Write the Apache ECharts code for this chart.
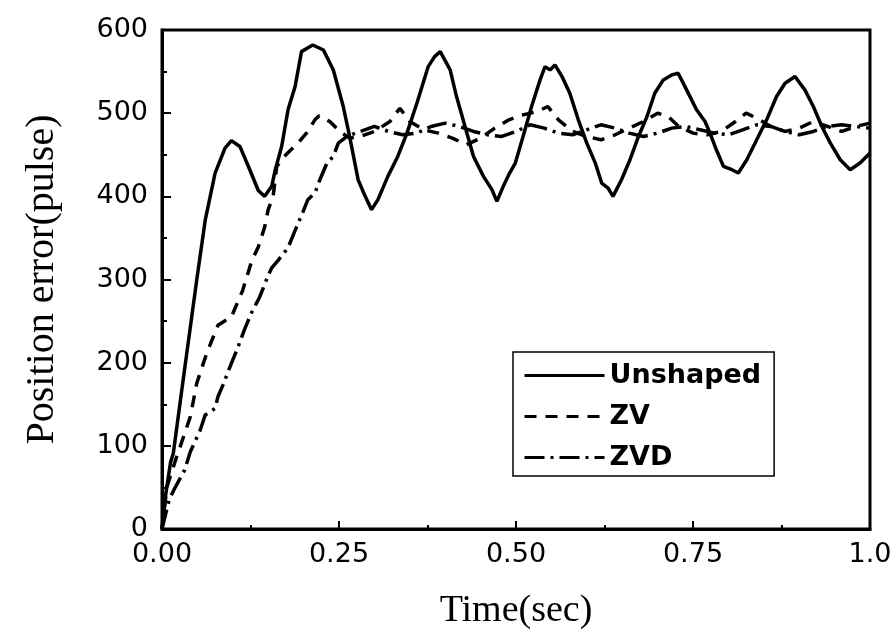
<!DOCTYPE html>
<html>
<head>
<meta charset="utf-8">
<script src="https://cdn.jsdelivr.net/npm/echarts@6/dist/echarts.min.js"></script>
<style>html,body{margin:0;padding:0;background:#fff}#c{width:895px;height:636px}</style>
</head>
<body>
<div id="c"></div>
<script>
var seriesNames = ['Unshaped', 'ZV', 'ZVD'];
var xTickLabels = ['0.00', '0.25', '0.50', '0.75', '1.0'];
var yTicks = [0, 100, 200, 300, 400, 500, 600];

var unshapedT = [0,0.005,0.012,0.016,0.03,0.049,0.061,0.075,0.089,0.098,0.11,0.124,0.136,0.145,0.155,0.16,0.169,0.178,0.188,0.197,0.205,0.213,0.228,0.242,0.256,0.265,0.277,0.287,0.296,0.305,0.319,0.333,0.346,0.36,0.376,0.385,0.393,0.407,0.416,0.428,0.44,0.454,0.466,0.473,0.482,0.491,0.499,0.51,0.522,0.534,0.541,0.548,0.555,0.565,0.576,0.588,0.6,0.612,0.621,0.63,0.637,0.649,0.661,0.673,0.685,0.696,0.708,0.72,0.729,0.741,0.755,0.767,0.774,0.783,0.793,0.805,0.814,0.826,0.84,0.854,0.868,0.88,0.894,0.908,0.92,0.932,0.944,0.958,0.972,0.986,1.0];
var unshapedV = [0,40,80,91,180,299,371,428,458,467,460,432,407,400,412,432,460,504,532,574,578,582,576,552,508,472,420,400,384,396,424,448,476,512,556,568,574,552,520,484,448,424,408,394,412,428,440,472,508,540,556,552,558,544,524,492,464,440,416,410,400,420,444,472,496,524,540,546,548,528,504,490,476,456,436,432,428,444,468,492,520,536,544,528,508,484,464,444,432,440,452];

var zvT = [0,0.007,0.02,0.04,0.049,0.063,0.079,0.098,0.114,0.127,0.136,0.145,0.15,0.157,0.162,0.175,0.192,0.204,0.216,0.222,0.237,0.251,0.265,0.28,0.3,0.322,0.336,0.35,0.37,0.39,0.41,0.43,0.45,0.47,0.49,0.51,0.53,0.545,0.56,0.58,0.6,0.62,0.64,0.66,0.68,0.70,0.715,0.73,0.75,0.77,0.79,0.81,0.825,0.84,0.86,0.88,0.90,0.92,0.94,0.96,0.98,1.0];
var zvV = [0,51,85,135,175,211,245,255,287,323,339,363,384,400,436,450,464,476,492,497,490,478,470,472,478,490,506,490,480,476,470,462,470,482,492,498,502,508,492,478,472,468,474,482,490,500,496,484,476,474,478,490,500,494,484,478,482,490,484,478,484,488];

var zvdT = [0,0.01,0.018,0.032,0.04,0.054,0.061,0.075,0.079,0.086,0.096,0.107,0.117,0.127,0.138,0.15,0.155,0.164,0.178,0.188,0.199,0.206,0.216,0.223,0.233,0.242,0.249,0.261,0.28,0.30,0.32,0.34,0.36,0.38,0.40,0.42,0.44,0.46,0.48,0.50,0.52,0.54,0.56,0.58,0.60,0.62,0.64,0.66,0.68,0.70,0.72,0.74,0.76,0.78,0.80,0.82,0.84,0.86,0.88,0.90,0.92,0.94,0.96,0.98,1.0];
var zvdV = [0,35,49,71,93,119,137,145,159,173,195,218,241,261,279,305,314,323,338,359,381,396,404,420,440,448,464,472,478,484,478,474,476,484,488,484,478,474,472,478,486,482,476,474,480,486,482,476,472,476,482,484,480,476,474,480,486,484,478,474,478,484,486,484,482];

function pairs(t, v) { return t.map(function (x, i) { return [x, v[i]]; }); }

var chart = echarts.init(document.getElementById('c'), null, { renderer: 'canvas' });
var sansFont = '"DejaVu Sans", Arial, sans-serif';
var serifFont = '"Liberation Serif", "Times New Roman", serif';

chart.setOption({
  backgroundColor: '#ffffff',
  animation: false,
  grid: {
    left: 162, right: 25, top: 30, bottom: 107,
    show: true, borderColor: '#000', borderWidth: 3, backgroundColor: 'transparent'
  },
  legend: {
    orient: 'vertical',
    left: 513, top: 352,
    padding: [10, 13, 5, 10],
    itemGap: 14,
    itemWidth: 80,
    itemHeight: 14,
    borderColor: '#000',
    borderWidth: 1.5,
    backgroundColor: '#fff',
    data: seriesNames,
    itemStyle: { opacity: 0 },
    lineStyle: { width: 3 },
    textStyle: { fontFamily: sansFont, fontWeight: 'bold', fontSize: 27, color: '#000', lineHeight: 26 }
  },
  xAxis: {
    type: 'value', min: 0, max: 1, interval: 0.25,
    name: 'Time(sec)', nameLocation: 'middle', nameGap: 63,
    nameTextStyle: { fontFamily: serifFont, fontSize: 38, color: '#000' },
    axisLine: { show: true, lineStyle: { color: '#000', width: 3 } },
    axisTick: { show: true, inside: true, length: 8, lineStyle: { color: '#000', width: 2 } },
    minorTick: { show: true, splitNumber: 2, length: 4, lineStyle: { color: '#000', width: 2 } },
    splitLine: { show: false },
    axisLabel: {
      margin: 12, fontFamily: sansFont, fontSize: 27, color: '#000',
      formatter: function (v) { return xTickLabels[Math.round(v / 0.25)]; }
    }
  },
  yAxis: {
    type: 'value', min: yTicks[0], max: yTicks[yTicks.length - 1], interval: 100,
    name: 'Position error(pulse)', nameLocation: 'middle', nameGap: 100,
    nameTextStyle: { fontFamily: serifFont, fontSize: 40, color: '#000' },
    axisLine: { show: true, lineStyle: { color: '#000', width: 3 } },
    axisTick: { show: true, inside: true, length: 9, lineStyle: { color: '#000', width: 2 } },
    minorTick: { show: true, splitNumber: 2, length: 5, lineStyle: { color: '#000', width: 2 } },
    splitLine: { show: false },
    axisLabel: { margin: 14, fontFamily: sansFont, fontSize: 27, color: '#000' }
  },
  series: [
    {
      name: seriesNames[0], type: 'line', symbol: 'none', smooth: false,
      data: pairs(unshapedT, unshapedV),
      lineStyle: { color: '#000', width: 3.5, type: 'solid' }, itemStyle: { color: '#000' }
    },
    {
      name: seriesNames[1], type: 'line', symbol: 'none', smooth: false,
      data: pairs(zvT, zvV),
      lineStyle: { color: '#000', width: 3.5, type: [12, 9] }, itemStyle: { color: '#000' }
    },
    {
      name: seriesNames[2], type: 'line', symbol: 'none', smooth: false,
      data: pairs(zvdT, zvdV),
      lineStyle: { color: '#000', width: 3.5, type: [20, 6, 3, 6] }, itemStyle: { color: '#000' }
    }
  ]
});
</script>
</body>
</html>
